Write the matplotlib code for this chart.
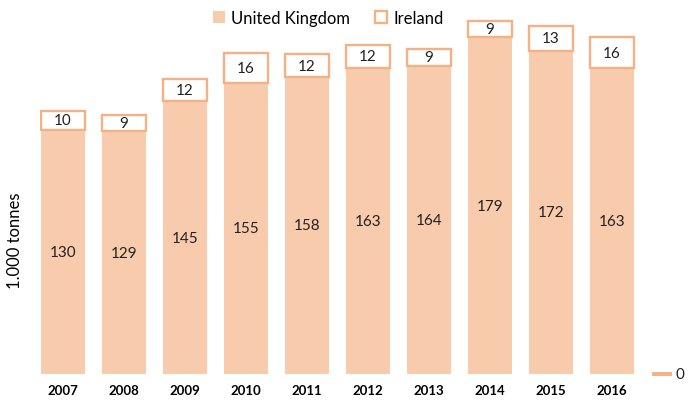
import matplotlib.pyplot as plt
import numpy as np

years = ['2007', '2008', '2009', '2010', '2011', '2012', '2013', '2014', '2015', '2016']
uk = [130, 129, 145, 155, 158, 163, 164, 179, 172, 163]
ireland = [10, 9, 12, 16, 12, 12, 9, 9, 13, 16]
other = 0

plt.rcParams['font.family'] = ['Lato', 'DejaVu Sans']

fill_col = '#F8CBAD'
edge_col = '#F4B183'

fig = plt.figure(figsize=(6.88, 4.02), dpi=100)
ax = fig.add_axes([40 / 688, 27 / 402, 648 / 688, 366 / 402])

x = np.arange(len(years))
w = 0.72
ax.bar(x, uk, w, color=fill_col, label='United Kingdom')
ax.bar(x, ireland, w, bottom=uk, facecolor='white', edgecolor=edge_col,
       linewidth=1.7, label='Ireland')

for i in range(len(years)):
    ax.text(x[i], uk[i] / 2, str(uk[i]), ha='center', va='center', fontsize=11, color='#222222')
    ax.text(x[i], uk[i] + ireland[i] / 2, str(ireland[i]), ha='center', va='center',
            fontsize=11, color='#222222')

# the extra "0" marker on the right
ax.plot([len(years) - 0.35, len(years) - 0.02], [other, other], color=edge_col, lw=2.8,
        solid_capstyle='butt', clip_on=False)
ax.text(len(years) + 0.04, other, '0', ha='left', va='center', fontsize=11, color='#222222')

ax.set_xlim(-23 / 61, 10 + 15 / 61)
ax.set_ylim(0, 366 / 1.88)
ax.set_xticks(x)
ax.set_xticklabels(years, fontweight='bold', fontsize=9.5)
ax.tick_params(axis='x', length=0, pad=7)
ax.set_yticks([])
for s in ax.spines.values():
    s.set_visible(False)

ax.set_ylabel('1.000 tonnes', fontsize=12)
ax.yaxis.set_label_coords(-0.026, 0.366)

fig.legend(loc='upper center', bbox_to_anchor=(0.4775, 1.01), ncol=2, frameon=False,
           fontsize=12, handlelength=0.7, handleheight=0.7, columnspacing=1.5,
           handletextpad=0.4)

fig.savefig('out.png', dpi=100)
